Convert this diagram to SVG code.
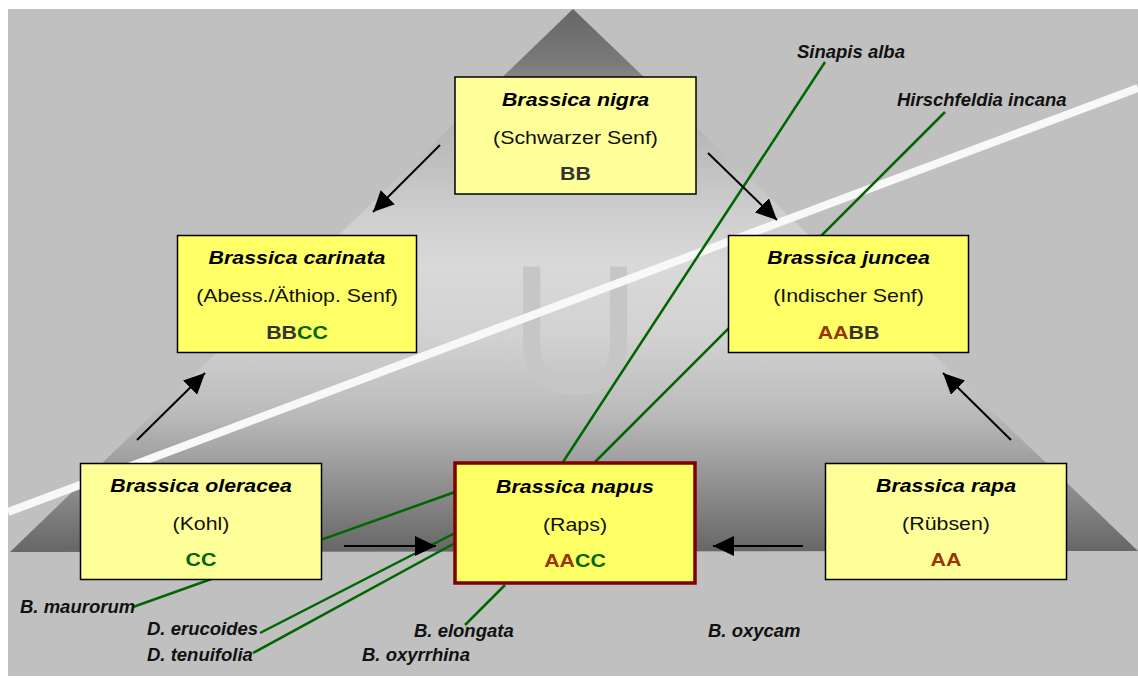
<svg xmlns="http://www.w3.org/2000/svg" width="1138" height="684" viewBox="0 0 1138 684">
<style>
.box{stroke:#000;stroke-width:1.5}
.light{fill:#ffff99}
.bright{fill:#ffff66}
.t{font-family:"Liberation Sans",Arial,sans-serif;font-size:17.5px;text-anchor:middle}
.ti{font-weight:bold;font-style:italic;fill:#000}
.sub{fill:#111}
.code{font-weight:bold}
.bb{fill:#333333}
.cc{fill:#006600}
.aa{fill:#993300}
.lbl{font-family:"Liberation Sans",Arial,sans-serif;font-size:18.5px;font-weight:bold;font-style:italic;fill:#111}
.green{stroke:#006600;stroke-width:2.5;fill:none}
.arr{stroke:#000;stroke-width:2;fill:none;marker-end:url(#ah)}
</style>
<defs>
<linearGradient id="tri" gradientUnits="userSpaceOnUse" x1="0" y1="9" x2="0" y2="552">
<stop offset="0" stop-color="#666666"/>
<stop offset="0.1" stop-color="#7a7a7a"/>
<stop offset="0.22" stop-color="#b6b6b6"/>
<stop offset="0.37" stop-color="#cdcdcd"/>
<stop offset="0.47" stop-color="#d9d9d9"/>
<stop offset="0.6" stop-color="#d2d2d2"/>
<stop offset="0.74" stop-color="#bcbcbc"/>
<stop offset="0.81" stop-color="#a6a6a6"/>
<stop offset="1" stop-color="#666666"/>
</linearGradient>
<marker id="ah" markerUnits="userSpaceOnUse" markerWidth="22" markerHeight="20" refX="21" refY="10" orient="auto">
<path d="M0,0 L21,10 L0,20 Z" fill="#000"/>
</marker>
</defs>
<rect x="8" y="9" width="1130" height="667" fill="#c0c0c0"/>
<polygon points="573,9 1138,551 10,552" fill="url(#tri)"/>
<text x="575" y="393" font-family="Liberation Sans,Arial,sans-serif" font-size="183" fill="#c6c6c6" text-anchor="middle">U</text>
<line x1="8" y1="512" x2="1138" y2="88" stroke="#f8f8f8" stroke-width="8"/>
<g id="connectors">
<line class="green" x1="825" y1="62" x2="563" y2="462"/>
<line class="green" x1="945" y1="112" x2="595" y2="462"/>
<line class="green" x1="133" y1="607" x2="455" y2="492"/>
<line class="green" x1="260" y1="633" x2="455" y2="533"/>
<line class="green" x1="253" y1="653" x2="455" y2="543"/>
<line class="green" x1="465" y1="625" x2="505" y2="585"/>
<line class="arr" x1="440" y1="145" x2="373" y2="212"/>
<line class="arr" x1="708" y1="153" x2="777" y2="220"/>
<line class="arr" x1="137" y1="440" x2="205" y2="373"/>
<line class="arr" x1="1011" y1="440" x2="943" y2="373"/>
<line class="arr" x1="344" y1="546" x2="436" y2="546"/>
<line class="arr" x1="803" y1="546" x2="713" y2="546"/>
</g>
<g id="nigra">
<rect class="box light" x="455" y="77" width="241" height="117"/>
<text class="t ti" transform="translate(575.5,106) scale(1.22,1)">Brassica nigra</text>
<text class="t sub" transform="translate(575.5,144) scale(1.22,1)">(Schwarzer Senf)</text>
<text class="t code bb" transform="translate(575.5,180) scale(1.22,1)">BB</text>
</g>
<g id="carinata">
<rect class="box bright" x="177.5" y="235.5" width="239" height="117"/>
<text class="t ti" transform="translate(297,264) scale(1.22,1)">Brassica carinata</text>
<text class="t sub" transform="translate(297,302) scale(1.22,1)">(Abess./Äthiop. Senf)</text>
<text class="t code" transform="translate(297,339) scale(1.22,1)"><tspan class="bb">BB</tspan><tspan class="cc">CC</tspan></text>
</g>
<g id="juncea">
<rect class="box bright" x="728.5" y="235.5" width="240" height="117"/>
<text class="t ti" transform="translate(848.5,264) scale(1.22,1)">Brassica juncea</text>
<text class="t sub" transform="translate(848.5,302) scale(1.22,1)">(Indischer Senf)</text>
<text class="t code" transform="translate(848.5,339) scale(1.22,1)"><tspan class="aa">AA</tspan><tspan class="bb">BB</tspan></text>
</g>
<g id="oleracea">
<rect class="box light" x="80.5" y="463.5" width="241" height="116"/>
<text class="t ti" transform="translate(201,492) scale(1.22,1)">Brassica oleracea</text>
<text class="t sub" transform="translate(201,530) scale(1.22,1)">(Kohl)</text>
<text class="t code cc" transform="translate(201,566) scale(1.22,1)">CC</text>
</g>
<g id="napus">
<rect x="455" y="463" width="240" height="120" fill="#ffff66" stroke="#800000" stroke-width="3.5"/>
<text class="t ti" transform="translate(575,493) scale(1.22,1)">Brassica napus</text>
<text class="t sub" transform="translate(575,531) scale(1.22,1)">(Raps)</text>
<text class="t code" transform="translate(575,567) scale(1.22,1)"><tspan class="aa">AA</tspan><tspan class="cc">CC</tspan></text>
</g>
<g id="rapa">
<rect class="box light" x="825.5" y="463.5" width="241" height="116"/>
<text class="t ti" transform="translate(946,492) scale(1.22,1)">Brassica rapa</text>
<text class="t sub" transform="translate(946,530) scale(1.22,1)">(Rübsen)</text>
<text class="t code aa" transform="translate(946,566) scale(1.22,1)">AA</text>
</g>
<g id="labels">
<text class="lbl" x="797" y="58">Sinapis alba</text>
<text class="lbl" x="897" y="106">Hirschfeldia incana</text>
<text class="lbl" x="20" y="613">B. maurorum</text>
<text class="lbl" x="147" y="635">D. erucoides</text>
<text class="lbl" x="147" y="661">D. tenuifolia</text>
<text class="lbl" x="414" y="637">B. elongata</text>
<text class="lbl" x="362" y="661">B. oxyrrhina</text>
<text class="lbl" x="708" y="637">B. oxycam</text>
</g>
</svg>
